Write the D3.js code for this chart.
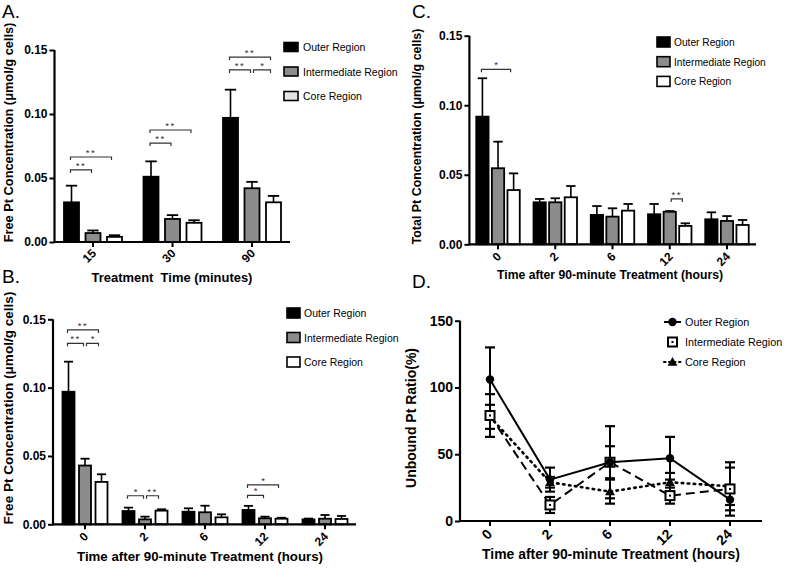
<!DOCTYPE html>
<html><head><meta charset="utf-8">
<script src="https://cdn.jsdelivr.net/npm/d3@7"></script>
<style>
body{margin:0;background:#fff;}
svg{display:block;font-family:"Liberation Sans",Arial,sans-serif;}
</style></head>
<body><svg id="c" width="787" height="568"></svg>
<script>
// ---------- DATA ----------
const seriesNames = ["Outer Region","Intermediate Region","Core Region"];
const treatTimes = ["15","30","90"];
const hoursAfter = ["0","2","6","12","24"];

// Panel A: free Pt vs treatment time (mean, SD)
const aOuter = [0.031,0.051,0.097], aOuterSD = [0.013,0.012,0.022];
const aInter = [0.007,0.018,0.042], aInterSD = [0.002,0.003,0.005];
const aCore  = [0.004,0.015,0.031], aCoreSD  = [0.0013,0.002,0.005];

// Panel B: free Pt after 90-minute treatment
const bOuter = [0.097,0.0097,0.0092,0.0105,0.0036], bOuterSD = [0.022,0.0025,0.0025,0.003,0.0006];
const bInter = [0.043,0.0036,0.0088,0.0044,0.0041], bInterSD = [0.005,0.002,0.0048,0.0012,0.0027];
const bCore  = [0.031,0.0100,0.0051,0.0041,0.0039], bCoreSD  = [0.0056,0.001,0.0022,0.0007,0.0022];

// Panel C: total Pt after 90-minute treatment
const cOuter = [0.0918,0.0302,0.0211,0.0216,0.018], cOuterSD = [0.0276,0.0024,0.0064,0.0074,0.005];
const cInter = [0.0547,0.0302,0.0199,0.0234,0.0168], cInterSD = [0.0191,0.0029,0.006,0.0005,0.0035];
const cCore  = [0.039,0.0338,0.0242,0.0132,0.0139], cCoreSD  = [0.012,0.0081,0.0048,0.0019,0.0036];

// Panel D: unbound Pt ratio (%)
const dOuter = [106,31,44,47,16], dOuterSD = [24,9,27,16,8];
const dInter = [79,12,44,19,24],  dInterSD = [16,6,12,6,20];
const dCore  = [78,29,22,29,26],  dCoreSD  = [9,4,9,7,14];

const concTicks = [0,0.05,0.10,0.15];
const ratioTicks = [0,50,100,150];

// significance brackets: group, from series, to series, height, label
const aSig = [["15",0,1,0.0563,"**"],["15",0,2,0.0664,"**"],["30",0,1,0.0773,"**"],["30",0,2,0.0875,"**"],
              ["90",0,1,0.1344,"**"],["90",1,2,0.1344,"*"],["90",0,2,0.1445,"**"]];
const bSig = [["0",0,1,0.1324,"**"],["0",1,2,0.1324,"*"],["0",0,2,0.1422,"**"],
              ["2",0,1,0.0209,"*"],["2",1,2,0.0209,"**"],["12",0,1,0.0212,"*"],["12",0,2,0.0288,"*"]];
const cSig = [["0",0,2,0.1258,"*"],["12",1,2,0.0326,"**"]];

// ---------- DRAWING ----------
const svg = d3.select("#c");
const fills = ["#000000","#8c8c8c","#ffffff"];

// fit a text element's font size so its length matches a target width
function fitText(sel,target){
  const fs = +sel.attr("font-size");
  const w = sel.node().getComputedTextLength();
  if(w>0) sel.attr("font-size", (fs*target/w).toFixed(2));
  return sel;
}

function panelLetter(t,x,y){
  svg.append("text").attr("x",x).attr("y",y).attr("font-size",19).text(t);
}

function yAxisDraw(g,y,x0,ticks,fmt,fs){
  const ax = g.append("g").attr("transform",`translate(${x0},0)`)
    .call(d3.axisLeft(y).tickValues(ticks).tickFormat(fmt).tickSize(5).tickPadding(2));
  ax.select(".domain").attr("stroke-width",2.2).attr("d",`M0,${y(ticks[0])+1}V${y(ticks[ticks.length-1])}`);
  ax.selectAll(".tick line").attr("stroke-width",2);
  ax.selectAll(".tick text").attr("font-size",fs).attr("font-weight","bold").attr("fill","#000");
}

function xAxisDraw(g,x,yBase,x0,x1,fs,dx,dy){
  const ax = g.append("g").attr("transform",`translate(0,${yBase})`);
  ax.append("line").attr("x1",x0).attr("x2",x1).attr("stroke","#000").attr("stroke-width",2.2);
  x.domain().forEach(d=>{
    const cx = x(d)+x.bandwidth()/2;
    ax.append("line").attr("x1",cx).attr("x2",cx).attr("y1",0).attr("y2",5).attr("stroke","#000").attr("stroke-width",2);
    ax.append("text").attr("text-anchor","end").attr("font-size",fs).attr("font-weight","bold")
      .attr("transform",`translate(${cx+dx},${dy}) rotate(-45)`).text(d);
  });
}

function barPanel(o){
  const g = svg.append("g");
  const y = d3.scaleLinear().domain([0,0.15]).range([o.yb,o.yt]);
  const x = d3.scaleBand().domain(o.groups).range(o.xr);
  const pin = 1 - o.bw/o.off;
  const xs = d3.scaleBand().domain(d3.range(3)).range([-1.5*o.off,1.5*o.off]).paddingInner(pin).paddingOuter(pin/2);
  const cx = (gr,s)=> x(gr)+x.bandwidth()/2 + xs(s) + xs.bandwidth()/2;
  o.series.forEach((vals,s)=>{
    vals.forEach((v,i)=>{
      const gr = o.groups[i];
      const bx = x(gr)+x.bandwidth()/2 + xs(s);
      const top = y(v + o.sds[s][i]);
      const c = cx(gr,s);
      g.append("line").attr("x1",c).attr("x2",c).attr("y1",y(v)).attr("y2",top).attr("stroke","#000").attr("stroke-width",1.6);
      g.append("line").attr("x1",c-o.bw*0.38).attr("x2",c+o.bw*0.38).attr("y1",top).attr("y2",top).attr("stroke","#000").attr("stroke-width",1.8);
      g.append("rect").attr("x",bx).attr("y",y(v)).attr("width",xs.bandwidth()).attr("height",o.yb-y(v))
        .attr("fill",fills[s]).attr("stroke","#000").attr("stroke-width",1.8);
    });
  });
  yAxisDraw(g,y,o.x0,concTicks,d3.format(".2f"),o.tfs);
  xAxisDraw(g,x,o.yb,o.x0,o.xe,o.tfs,o.tdx,o.tdy);
  // brackets
  o.sig.forEach(([gr,a,b,h,lab])=>{
    const x1 = cx(gr,a) + (a>0?1.5:-1), x2 = cx(gr,b) - (b<2?1.5:3);
    const yy = y(h);
    g.append("path").attr("d",`M${x1},${yy+3}V${yy}H${x2}V${yy+3}`).attr("fill","none").attr("stroke","#333").attr("stroke-width",1.2);
    g.append("text").attr("x",(x1+x2)/2).attr("y",yy-1).attr("text-anchor","middle").attr("font-size",9.5)
      .attr("letter-spacing",lab.length>1?"1.5px":"0").attr("fill","#333").text(lab);
  });
  // axis titles
  fitText(g.append("text").attr("transform",`translate(${o.ylx},${o.yly}) rotate(-90)`).attr("text-anchor","middle")
    .attr("font-weight","bold").attr("font-size",13).text(o.ylab), o.ylw);
  fitText(g.append("text").attr("x",o.xlx).attr("y",o.xly).attr("text-anchor","middle").attr("font-weight","bold")
    .attr("font-size",13).style("white-space","pre").text(o.xlab), o.xlw);
  // legend
  seriesNames.forEach((n,s)=>{
    const ly = o.leg[1] + s*o.leg[2];
    g.append("rect").attr("x",o.leg[0]).attr("y",ly-o.sh/2).attr("width",o.sw).attr("height",o.sh)
      .attr("fill", s===2 ? o.coreSw : fills[s]).attr("stroke","#000").attr("stroke-width",1.6);
    g.append("text").attr("x",o.leg[3]).attr("y",ly+4).attr("font-size",o.lfs).text(n);
  });
}

panelLetter("A.",2,18);
barPanel({groups:treatTimes, series:[aOuter,aInter,aCore], sds:[aOuterSD,aInterSD,aCoreSD],
  yb:242, yt:50, xr:[53.25,291.75], x0:54.5, xe:290, bw:15, off:21.5, tfs:12, tdx:4, tdy:12, sig:aSig,
  ylab:"Free Pt Concentration (μmol/g cells)", ylx:12.5, yly:132.5, ylw:220,
  xlab:"Treatment  Time (minutes)", xlx:172, xly:282, xlw:161,
  leg:[284,47,24.5,303], sw:14, sh:9, coreSw:"#e4e4e4", lfs:10.5});

panelLetter("B.",2,283);
barPanel({groups:hoursAfter, series:[bOuter,bInter,bCore], sds:[bOuterSD,bInterSD,bCoreSD],
  yb:524.3, yt:319.3, xr:[55,355], x0:53, xe:356, bw:12, off:16.5, tfs:12, tdx:4, tdy:13, sig:bSig,
  ylab:"Free Pt Concentration (μmol/g cells)", ylx:12.5, yly:408, ylw:233,
  xlab:"Time after 90-minute Treatment (hours)", xlx:200, xly:561, xlw:246,
  leg:[287,313,24.5,304], sw:13, sh:10, coreSw:"#ffffff", lfs:10.5});

panelLetter("C.",412,18);
barPanel({groups:hoursAfter, series:[cOuter,cInter,cCore], sds:[cOuterSD,cInterSD,cCoreSD],
  yb:244.3, yt:35.7, xr:[469.4,755.6], x0:469.4, xe:756, bw:12.3, off:15.6, tfs:12, tdx:4, tdy:13, sig:cSig,
  ylab:"Total Pt Concentration (μmol/g cells)", ylx:421, yly:136.5, ylw:216,
  xlab:"Time after 90-minute Treatment (hours)", xlx:610, xly:279, xlw:226,
  leg:[657,42,19.7,674], sw:13, sh:10, coreSw:"#ffffff", lfs:10.2});

// ---------- Panel D ----------
panelLetter("D.",412,288);
(function(){
  const g = svg.append("g");
  const y = d3.scaleLinear().domain([0,150]).range([521,320.7]);
  const x = d3.scaleBand().domain(hoursAfter).range([460,760]);
  const px = d => x(d)+x.bandwidth()/2;
  const series = [
    {v:dCore, sd:dCoreSD, dash:"1.5,4.5", cap:"round", mk:"tri"},
    {v:dInter, sd:dInterSD, dash:"9,5", cap:"butt", mk:"sq"},
    {v:dOuter, sd:dOuterSD, dash:null, cap:"butt", mk:"circ"}
  ];
  series.forEach(s=>{
    s.v.forEach((v,i)=>{
      const c = px(hoursAfter[i]);
      const t = y(v+s.sd[i]), b = y(Math.max(0,v-s.sd[i]));
      g.append("line").attr("x1",c).attr("x2",c).attr("y1",t).attr("y2",b).attr("stroke","#000").attr("stroke-width",2);
      [t,b].forEach(yy=>g.append("line").attr("x1",c-5).attr("x2",c+5).attr("y1",yy).attr("y2",yy).attr("stroke","#000").attr("stroke-width",2.2));
    });
  });
  const line = d3.line().x((d,i)=>px(hoursAfter[i])).y(d=>y(d));
  series.forEach(s=>{
    g.append("path").attr("d",line(s.v)).attr("fill","none").attr("stroke","#000").attr("stroke-width",s.mk==="tri"?2.6:2)
      .attr("stroke-dasharray",s.dash).attr("stroke-linecap",s.cap);
  });
  function marker(type,cx,cy){
    if(type==="circ") g.append("circle").attr("cx",cx).attr("cy",cy).attr("r",4.2).attr("fill","#000");
    else if(type==="sq"){
      g.append("rect").attr("x",cx-4.5).attr("y",cy-4.5).attr("width",9).attr("height",9).attr("fill","#fff").attr("stroke","#000").attr("stroke-width",2);
      g.append("rect").attr("x",cx-1).attr("y",cy-1).attr("width",2).attr("height",2).attr("fill","#000");
    } else g.append("path").attr("d",d3.symbol(d3.symbolTriangle,42)()).attr("transform",`translate(${cx},${cy+0.8})`).attr("fill","#000");
  }
  series.forEach(s=>s.v.forEach((v,i)=>marker(s.mk,px(hoursAfter[i]),y(v))));
  yAxisDraw(g,y,460,ratioTicks,d3.format("d"),14);
  xAxisDraw(g,x,521,460,762,14,3,14);
  fitText(g.append("text").attr("transform","translate(416,418) rotate(-90)").attr("text-anchor","middle")
    .attr("font-weight","bold").attr("font-size",14).text("Unbound Pt Ratio(%)"), 140);
  fitText(g.append("text").attr("x",611).attr("y",559).attr("text-anchor","middle").attr("font-weight","bold")
    .attr("font-size",14).text("Time after 90-minute Treatment (hours)"), 258);
  // legend
  const legStyle = [["circ",null,664,681],["sq",null,668,677],["tri","1.5,3.5",664,681]];
  seriesNames.forEach((n,k)=>{
    const ly = 322 + k*20;
    const [mk,dash,lx1,lx2] = legStyle[k];
    g.append("line").attr("x1",lx1).attr("x2",lx2).attr("y1",ly).attr("y2",ly).attr("stroke","#000").attr("stroke-width",2)
      .attr("stroke-dasharray",dash).attr("stroke-linecap",mk==="tri"?"round":"butt");
    marker(mk,672.5,ly);
    g.append("text").attr("x",685).attr("y",ly+4).attr("font-size",10.8).text(n);
  });
})();
</script></body></html>
